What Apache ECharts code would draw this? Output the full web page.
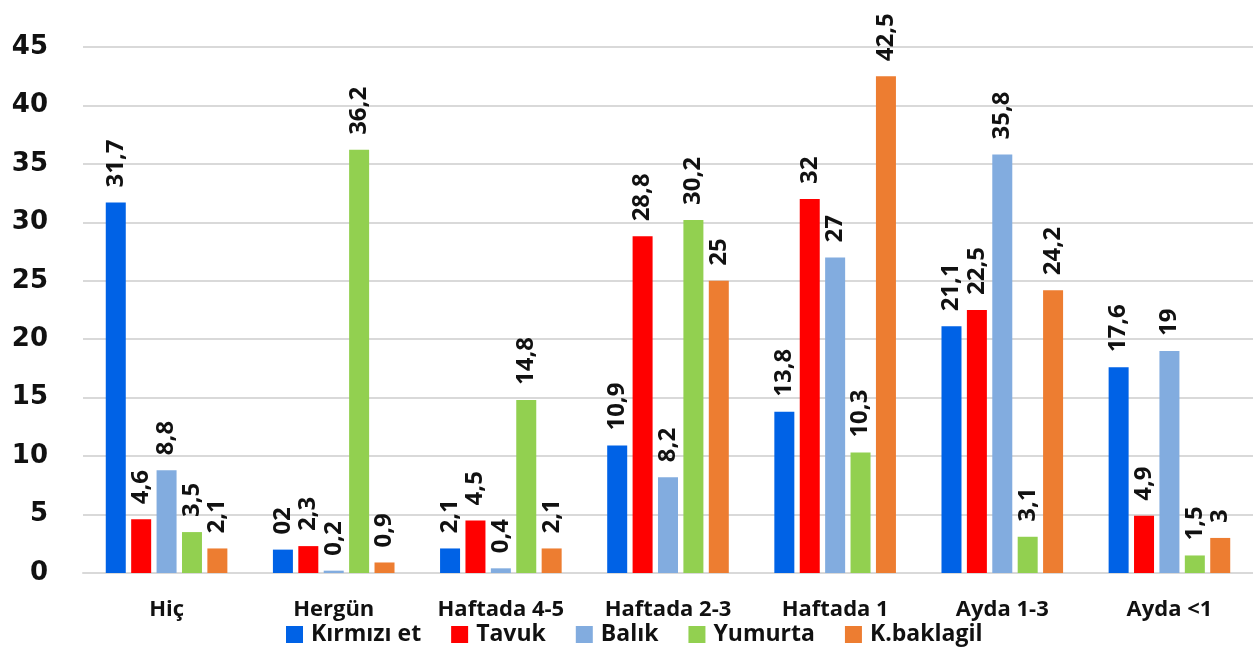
<!DOCTYPE html>
<html lang="tr">
<head>
    <meta charset="UTF-8">
    <title>Tüketim sıklığı</title>
    <script src="https://cdn.jsdelivr.net/npm/echarts@6/dist/echarts.min.js"></script>
    <style>
        html, body { margin: 0; padding: 0; background: #fff; }
        #main { width: 1253px; height: 650px; }
    </style>
</head>
<body>
    <div id="main"></div>
    <script type="text/javascript">
        var categories = ['Hiç', 'Hergün', 'Haftada 4-5', 'Haftada 2-3', 'Haftada 1', 'Ayda 1-3', 'Ayda <1'];
        var seriesNames = ['Kırmızı et', 'Tavuk', 'Balık', 'Yumurta', 'K.baklagil'];
        var kirmiziEt = [31.7, 2, 2.1, 10.9, 13.8, 21.1, 17.6];
        var tavuk = [4.6, 2.3, 4.5, 28.8, 32, 22.5, 4.9];
        var balik = [8.8, 0.2, 0.4, 8.2, 27, 35.8, 19];
        var yumurta = [3.5, 36.2, 14.8, 30.2, 10.3, 3.1, 1.5];
        var baklagil = [2.1, 0.9, 2.1, 25, 42.5, 24.2, 3];
        // the original label for Hergün / Kırmızı et reads "02"
        var kirmiziEtLabels = [null, '02', null, null, null, null, null];
        var yTicks = [0, 5, 10, 15, 20, 25, 30, 35, 40, 45];

        var colors = ['#0062E6', '#FF0000', '#82ACDF', '#92D050', '#ED7D31'];
        var allData = [kirmiziEt, tavuk, balik, yumurta, baklagil];

        var myChart = echarts.init(document.getElementById('main'));

        var series = allData.map(function (vals, si) {
            return {
                name: seriesNames[si],
                type: 'bar',
                barWidth: 20,
                barGap: '27%',
                itemStyle: { color: colors[si] },
                data: vals.map(function (v, i) {
                    if (si === 0 && kirmiziEtLabels[i]) {
                        return { value: v, label: { formatter: kirmiziEtLabels[i] } };
                    }
                    return v;
                }),
                label: {
                    show: true,
                    position: 'top',
                    rotate: 90,
                    align: 'left',
                    verticalAlign: 'middle',
                    distance: 15,
                    color: '#111',
                    fontFamily: 'Open Sans',
                    fontWeight: 'bold',
                    fontSize: 24,
                    formatter: function (p) {
                        return String(p.value).replace('.', ',');
                    }
                }
            };
        });

        var option = {
            animation: false,
            grid: { left: 83, right: 0, top: 47, bottom: 77 },
            legend: {
                left: 281,
                top: 618,
                itemWidth: 17,
                itemHeight: 17,
                itemGap: 30,
                icon: 'rect',
                textStyle: {
                    fontFamily: 'Open Sans',
                    fontWeight: 'bold',
                    fontSize: 23,
                    color: '#111',
                    padding: [0, 0, 0, 3]
                },
                data: seriesNames
            },
            xAxis: {
                type: 'category',
                data: categories,
                axisTick: { show: false },
                axisLine: { lineStyle: { color: '#d9d9d9', width: 2 } },
                axisLabel: {
                    margin: 26,
                    color: '#111',
                    fontFamily: 'Open Sans',
                    fontWeight: 'bold',
                    fontSize: 22
                }
            },
            yAxis: {
                type: 'value',
                min: yTicks[0],
                max: yTicks[yTicks.length - 1],
                interval: 5,
                axisLine: { show: false },
                axisTick: { show: false },
                splitLine: { lineStyle: { color: '#d9d9d9', width: 2 } },
                axisLabel: {
                    margin: 35,
                    color: '#111',
                    fontFamily: 'DejaVu Sans',
                    fontWeight: 'bold',
                    fontSize: 26
                }
            },
            series: series
        };

        myChart.setOption(option);
    </script>
</body>
</html>
